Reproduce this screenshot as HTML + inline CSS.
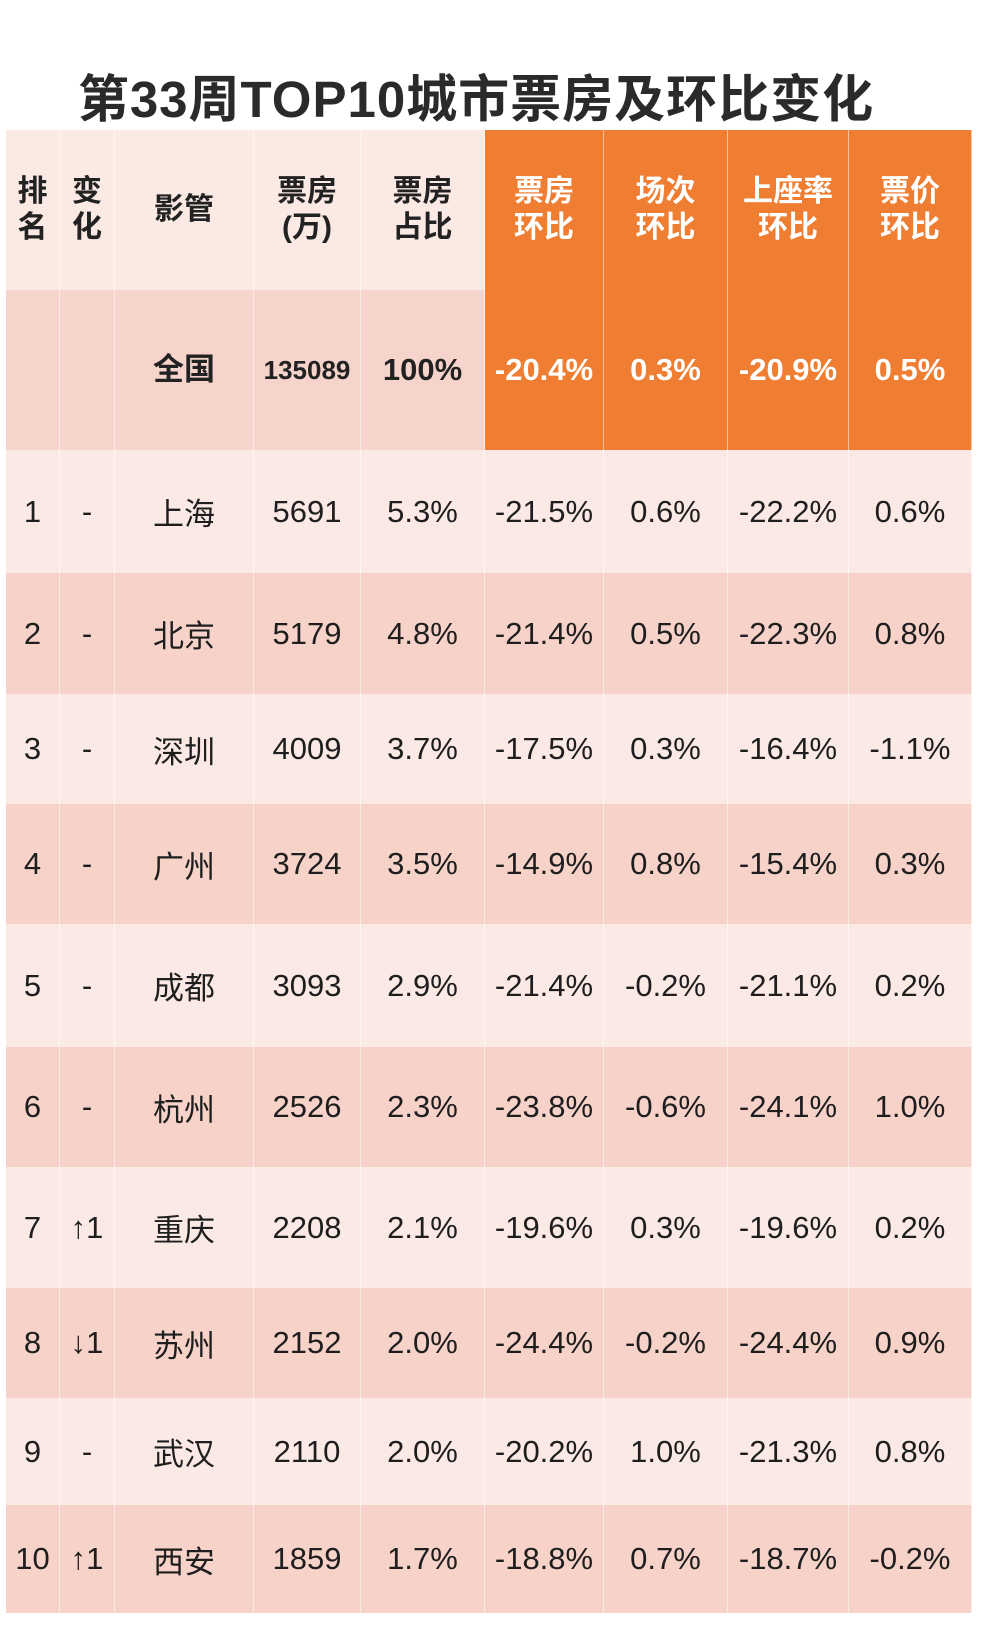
<!DOCTYPE html>
<html><head><meta charset="utf-8">
<style>
body{margin:0;width:984px;height:1643px;background:#fff;position:relative;font-family:"Liberation Sans","Noto Sans CJK SC",sans-serif;color:#1e1e1e;overflow:hidden}
#title{position:absolute;left:0;width:952px;top:58px;text-align:center;font-size:51px;letter-spacing:1px;font-weight:bold;color:#2a2a2a;white-space:nowrap}
.cell{position:absolute;display:flex;align-items:center;justify-content:center;text-align:center;box-sizing:border-box;border-right:1px solid rgba(255,255,255,0.55);white-space:nowrap}
.h{font-weight:bold;font-size:30px;line-height:36px}
.d{font-size:31px}
</style></head><body>
<div id="title">第33周TOP10城市票房及环比变化</div>
<div id="tbl"></div>
<script>
const headers=["排<br>名","变<br>化","影管","票房<br>(万)","票房<br>占比","票房<br>环比","场次<br>环比","上座率<br>环比","票价<br>环比"];
const ranks=["1","2","3","4","5","6","7","8","9","10"];
const changes=["-","-","-","-","-","-","↑1","↓1","-","↑1"];
const cities=["上海","北京","深圳","广州","成都","杭州","重庆","苏州","武汉","西安"];
const boxOffice=["5691","5179","4009","3724","3093","2526","2208","2152","2110","1859"];
const share=["5.3%","4.8%","3.7%","3.5%","2.9%","2.3%","2.1%","2.0%","2.0%","1.7%"];
const boxChg=["-21.5%","-21.4%","-17.5%","-14.9%","-21.4%","-23.8%","-19.6%","-24.4%","-20.2%","-18.8%"];
const showChg=["0.6%","0.5%","0.3%","0.8%","-0.2%","-0.6%","0.3%","-0.2%","1.0%","0.7%"];
const occChg=["-22.2%","-22.3%","-16.4%","-15.4%","-21.1%","-24.1%","-19.6%","-24.4%","-21.3%","-18.7%"];
const priceChg=["0.6%","0.8%","-1.1%","0.3%","0.2%","1.0%","0.2%","0.9%","0.8%","-0.2%"];
const national=["","","全国","135089","100%","-20.4%","0.3%","-20.9%","0.5%"];
const colX=[6,60,115,254,361,485,604,728,849,972];
const rowY=[130,290,450,573,694,804,924,1047,1167,1288,1398,1505,1613];
const tbl=document.getElementById('tbl');
function cell(r,c,html,cls,bg,color,name){
  const el=document.createElement('div');
  el.className='cell '+cls;
  
  
  el.style.left=colX[c]+'px';el.style.width=(colX[c+1]-colX[c])+'px';
  el.style.top=rowY[r]+'px';el.style.height=(rowY[r+1]-rowY[r])+'px';
  el.style.background=bg;el.style.color=color;
  el.innerHTML=html;tbl.appendChild(el);
}
const orange='#ef7e33';
headers.forEach((h,c)=>cell(0,c,h,'h',c>=5?orange:'#fbe9e4',c>=5?'#fff':'#222','header-'+c));
national.forEach((v,c)=>{
  const s=c==3?'font-size:26px':'font-size:31px';
  cell(1,c,'<span style="'+s+'">'+v+'</span>','h',c>=5?orange:'#f6d4cb',c>=5?'#fff':'#222','national-'+c);
});
for(let i=0;i<10;i++){
  const vals=[ranks[i],changes[i],cities[i],boxOffice[i],share[i],boxChg[i],showChg[i],occChg[i],priceChg[i]];
  const bg=i%2==0?'#fbe9e5':'#f6d2c8';
  vals.forEach((v,c)=>cell(i+2,c,v,'d',bg,'#1e1e1e','row-'+(i+1)+'-col-'+c));
}
</script>
</body></html>
